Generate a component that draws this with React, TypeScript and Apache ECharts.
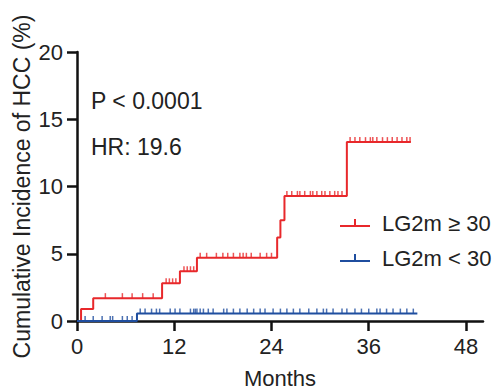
import React, { useEffect, useRef } from "react";
import * as echarts from "echarts";

// Red group: LG2m ≥ 30 (step times in months, cumulative incidence %)
const highTimes = [0, 0.5, 2.0, 10.5, 12.7, 14.8, 24.7, 25.1, 25.6, 33.3, 41.2];
const highValues = [0, 0.9, 1.7, 2.8, 3.7, 4.7, 6.2, 7.5, 9.3, 13.3, 13.3];
const highCensored = [
  3.5, 5.6, 6.8, 8.1, 9.4, 11.0, 11.4, 11.8, 12.2, 13.2, 13.6, 14.0, 14.4,
  15.2, 16.0, 17.2, 18.0, 18.6, 19.3, 20.1, 20.5, 20.9, 21.5, 22.6, 23.4, 24.0,
  25.9, 26.5, 27.2, 27.5, 28.1, 28.8, 29.1, 29.6, 30.2, 30.6, 31.2, 31.8, 32.2, 32.7,
  33.7, 34.3, 34.9, 35.6, 36.2, 36.5, 37.0, 37.7, 38.3, 38.9, 39.5, 40.1, 40.7, 41.1,
];

// Blue group: LG2m < 30
const lowTimes = [0, 7.4, 42.0];
const lowValues = [0, 0.55, 0.55];
const lowCensored = [
  1.0, 2.0, 3.1, 4.1, 4.4, 5.6, 6.2, 6.8,
  7.8, 8.4, 9.2, 9.8, 10.2, 11.5, 12.1, 12.7, 14.0, 14.4, 14.6, 14.8, 15.2, 15.6,
  16.2, 16.8, 18.1, 18.5, 19.3, 20.1, 21.0, 21.8, 22.6, 23.2, 24.2, 25.1, 25.9,
  26.7, 27.5, 28.6, 29.6, 30.4, 30.8, 31.6, 32.7, 33.3, 34.3, 35.1, 36.0, 37.0,
  37.4, 38.2, 39.0, 39.9, 40.7, 41.5,
];

const xTicks = [0, 12, 24, 36, 48];
const seriesNames = ["LG2m ≥ 30", "LG2m < 30"];
const annotations = ["P < 0.0001", "HR: 19.6"];

const RED = "#e8282b";
const BLUE = "#1f4e9f";
const FONT = "Liberation Sans, Arial, sans-serif";
const TEXT = "#222222";

function levelAt(times: number[], values: number[], t: number): number {
  let v = values[0];
  for (let i = 0; i < times.length; i++) {
    if (times[i] <= t) v = values[i];
  }
  return v;
}

export default function App() {
  const ref = useRef<HTMLDivElement>(null);
  useEffect(() => {
    if (!ref.current) return;
    const chart = echarts.init(ref.current, undefined, { renderer: "svg" });
    const highLine = highTimes.map((t, i) => [t, highValues[i]]);
    const lowLine = lowTimes.map((t, i) => [t, lowValues[i]]);
    const highMarks = highCensored.map((t) => [t, levelAt(highTimes, highValues, t)]);
    const lowMarks = lowCensored.map((t) => [t, levelAt(lowTimes, lowValues, t)]);
    const legendIcon = "path://M0,6 L30,6 L30,8 L0,8 Z M14,0 L16,0 L16,7 L14,7 Z";

    chart.setOption({
      animation: false,
      grid: { left: 77, right: 17, top: 52, bottom: 70, containLabel: false, outerBoundsMode: "none" },
      xAxis: {
        type: "value",
        min: 0,
        max: 50.1,
        name: "Months",
        nameLocation: "middle",
        nameGap: 46,
        nameMoveOverlap: false,
        nameTextStyle: { fontSize: 22, fontFamily: FONT, color: TEXT },
        axisLine: { show: true, lineStyle: { color: "#111", width: 2.5 } },
        axisTick: { show: true, length: 10, customValues: xTicks, lineStyle: { color: "#111", width: 2.5 } },
        axisLabel: { customValues: xTicks, fontSize: 22, fontFamily: FONT, color: TEXT, margin: 14 },
        splitLine: { show: false },
      },
      yAxis: {
        type: "value",
        min: 0,
        max: 20,
        interval: 5,
        name: "Cumulative Incidence of HCC (%)",
        nameLocation: "middle",
        nameGap: 44,
        nameMoveOverlap: false,
        nameTextStyle: { fontSize: 23, fontFamily: FONT, color: TEXT },
        axisLine: { show: true, lineStyle: { color: "#111", width: 2.5 } },
        axisTick: { show: true, length: 10, lineStyle: { color: "#111", width: 2.5 } },
        axisLabel: { fontSize: 22, fontFamily: FONT, color: TEXT, margin: 14 },
        splitLine: { show: false },
      },
      legend: {
        data: seriesNames,
        orient: "vertical",
        left: 335,
        top: 207,
        itemWidth: 30,
        itemHeight: 8,
        itemGap: 13,
        icon: legendIcon,
        textStyle: { fontSize: 22, fontFamily: FONT, color: TEXT, padding: [0, 0, 0, 7] },
        selectedMode: false,
      },
      graphic: [
        {
          type: "text",
          style: { text: annotations[0], x: 91, y: 101, fontSize: 23, fontFamily: FONT, fill: TEXT, verticalAlign: "middle" },
        },
        {
          type: "text",
          style: { text: annotations[1], x: 91, y: 147, fontSize: 23, fontFamily: FONT, fill: TEXT, verticalAlign: "middle" },
        },
      ],
      series: [
        {
          name: seriesNames[0],
          type: "line",
          step: "end",
          data: highLine,
          showSymbol: false,
          lineStyle: { color: RED, width: 2 },
          itemStyle: { color: RED },
          z: 3,
        },
        {
          name: seriesNames[1],
          type: "line",
          step: "end",
          data: lowLine,
          showSymbol: false,
          lineStyle: { color: BLUE, width: 2 },
          itemStyle: { color: BLUE },
          z: 3,
        },
        {
          name: "high-censored",
          type: "scatter",
          data: highMarks,
          symbol: "rect",
          symbolSize: [1.5, 5],
          symbolOffset: [0, -2.5],
          itemStyle: { color: RED },
          z: 4,
        },
        {
          name: "low-censored",
          type: "scatter",
          data: lowMarks,
          symbol: "rect",
          symbolSize: [1.5, 5],
          symbolOffset: [0, -2.5],
          itemStyle: { color: BLUE },
          z: 4,
        },
      ],
    });
    return () => chart.dispose();
  }, []);
  return <div ref={ref} style={{ width: 500, height: 391, position: "absolute", left: 0, top: 0 }} />;
}
